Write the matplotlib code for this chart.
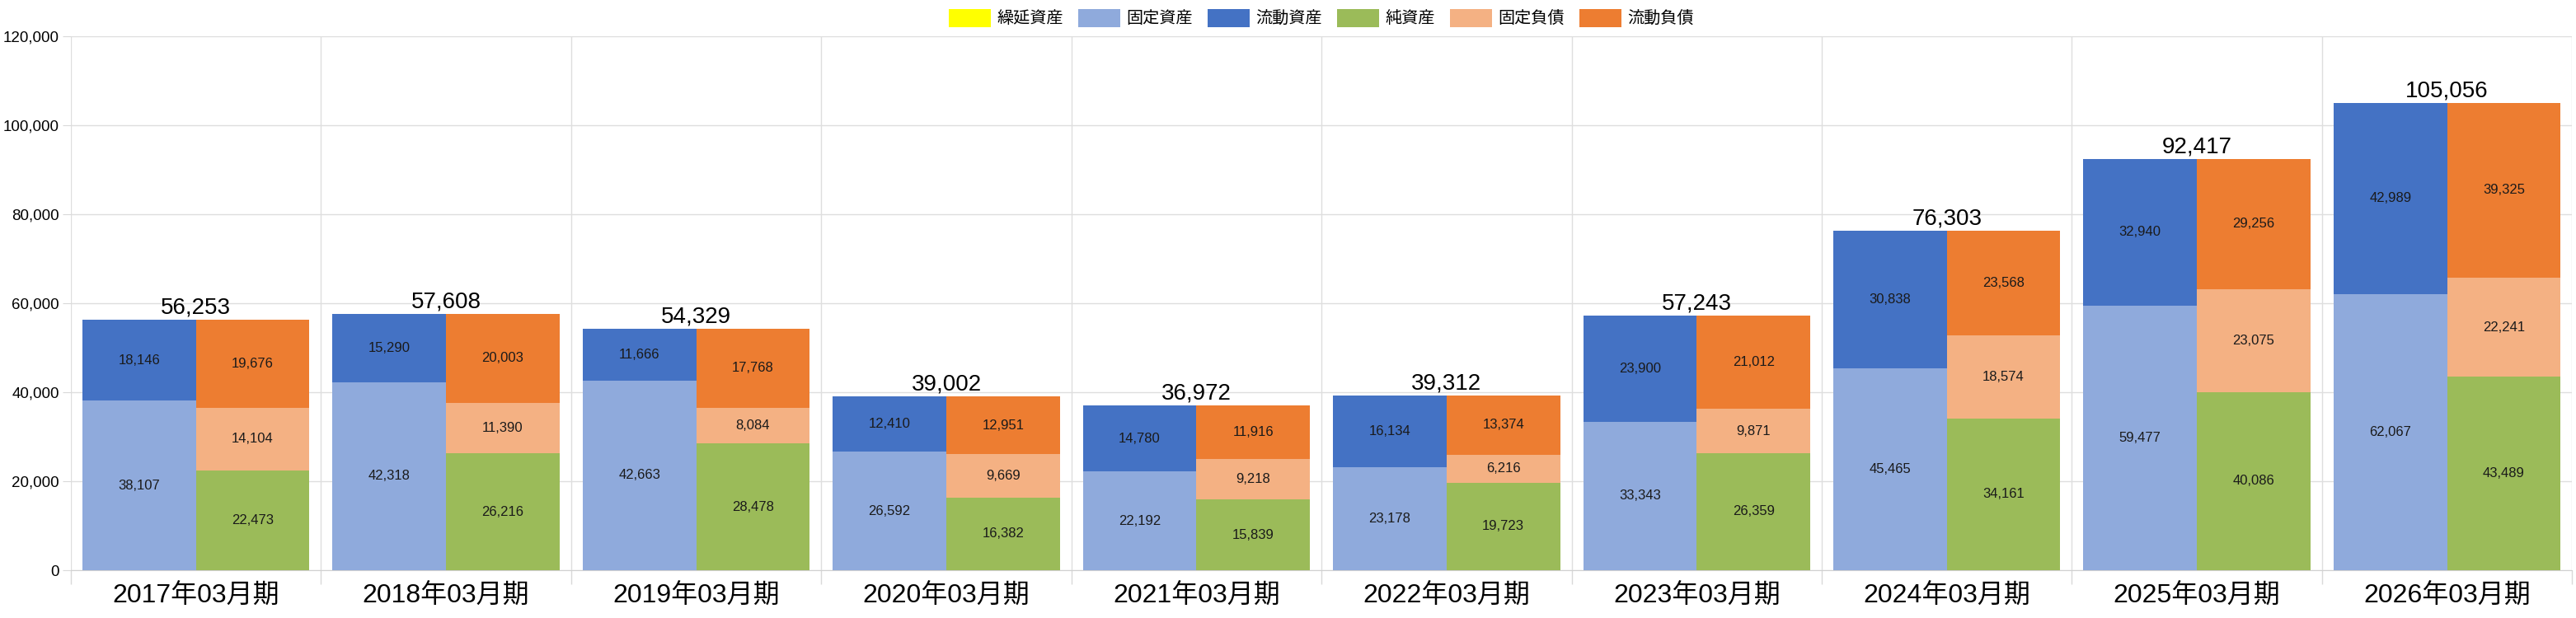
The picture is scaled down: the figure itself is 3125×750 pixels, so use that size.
import matplotlib
matplotlib.use('Agg')
import matplotlib.pyplot as plt
import numpy as np
from matplotlib.ticker import FuncFormatter, MultipleLocator

plt.rcParams['font.family'] = ['Liberation Sans', 'Noto Sans CJK JP']

periods = ['2017年03月期', '2018年03月期', '2019年03月期', '2020年03月期', '2021年03月期',
           '2022年03月期', '2023年03月期', '2024年03月期', '2025年03月期', '2026年03月期']

deferred = [0, 0, 0, 0, 0, 0, 0, 0, 0, 0]
fixed_assets = [38107, 42318, 42663, 26592, 22192, 23178, 33343, 45465, 59477, 62067]
current_assets = [18146, 15290, 11666, 12410, 14780, 16134, 23900, 30838, 32940, 42989]
net_assets = [22473, 26216, 28478, 16382, 15839, 19723, 26359, 34161, 40086, 43489]
fixed_liab = [14104, 11390, 8084, 9669, 9218, 6216, 9871, 18574, 23075, 22241]
current_liab = [19676, 20003, 17768, 12951, 11916, 13374, 21012, 23568, 29256, 39325]
totals = [56253, 57608, 54329, 39002, 36972, 39312, 57243, 76303, 92417, 105056]

fig = plt.figure(figsize=(31.25, 7.5), dpi=100)
ax = fig.add_axes([0.0275, 0.0773, 0.971, 0.864])

x = np.arange(len(periods))
w = 0.454

left = [('繰延資産', deferred, '#FFFF00'),
        ('固定資産', fixed_assets, '#8FAADC'),
        ('流動資産', current_assets, '#4472C4')]
right = [('純資産', net_assets, '#9BBB59'),
         ('固定負債', fixed_liab, '#F4B183'),
         ('流動負債', current_liab, '#ED7D31')]

def stack(xpos, series):
    bottom = np.zeros(len(periods))
    for name, vals, col in series:
        vals = np.array(vals, dtype=float)
        ax.bar(xpos, vals, w, bottom=bottom, color=col, label=name, zorder=3)
        for xi, b, v in zip(xpos, bottom, vals):
            if v > 0:
                ax.text(xi, b + v / 2, f'{int(v):,}', ha='center', va='center',
                        fontsize=12, color='#1a1a1a', zorder=4)
        bottom += vals

stack(x - w / 2, left)
stack(x + w / 2, right)

for xi, t in zip(x, totals):
    ax.text(xi, t + 300, f'{t:,}', ha='center', va='bottom', fontsize=20, zorder=4)

ax.set_xlim(-0.5, len(periods) - 0.5)
ax.set_ylim(0, 120000)
ax.yaxis.set_major_locator(MultipleLocator(20000))
ax.yaxis.set_major_formatter(FuncFormatter(lambda v, p: f'{int(v):,}'))
ax.set_xticks(x)
ax.set_xticklabels(periods, fontsize=23)
ax.set_xticks(np.arange(-0.5, len(periods)), minor=True)
ax.tick_params(axis='x', which='major', length=0, pad=12)
ax.tick_params(axis='x', which='minor', length=12, color='#d9d9d9', width=1)
ax.tick_params(axis='y', labelsize=13.5, length=7, color='#d9d9d9', pad=3)

ax.grid(axis='y', color='#dedede', linewidth=1, zorder=0)
ax.grid(axis='x', which='minor', color='#dedede', linewidth=1, zorder=0)
ax.set_axisbelow(True)
for s in ['top', 'right', 'left']:
    ax.spines[s].set_visible(False)
ax.spines['bottom'].set_color('#d0d0d0')

handles, labels = ax.get_legend_handles_labels()
fig.legend(handles, labels, loc='center', bbox_to_anchor=(0.513, 0.971), ncol=6,
           frameon=False, fontsize=14.5, handlelength=2.5, handleheight=1.3,
           handletextpad=0.4, columnspacing=0.9)

fig.savefig('out.png', dpi=100)
